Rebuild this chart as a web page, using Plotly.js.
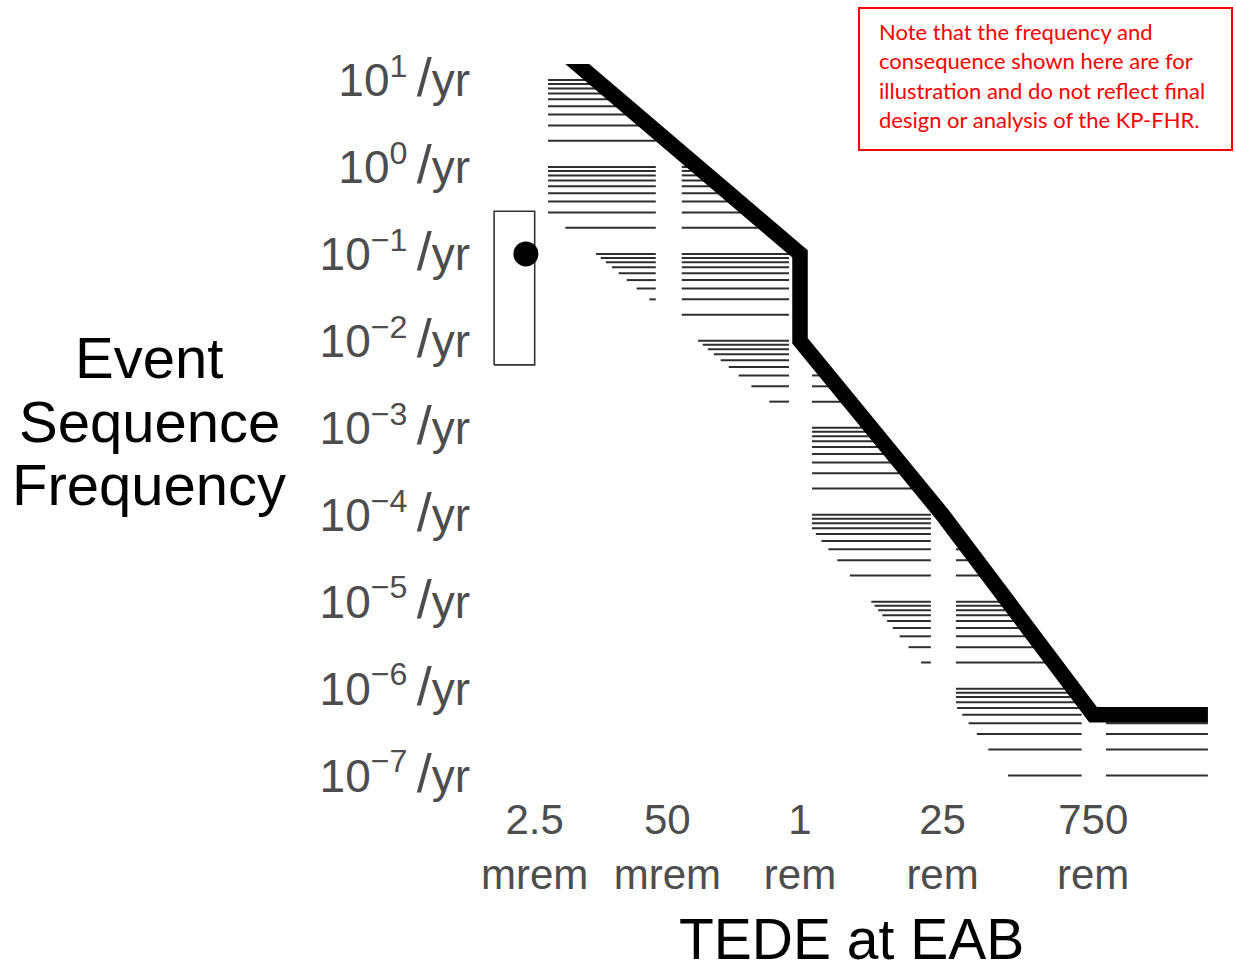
<!DOCTYPE html>
<html><head><meta charset="utf-8">
<script src="https://cdn.plot.ly/plotly-3.0.1.min.js"></script>
<style>html,body{margin:0;padding:0;background:#fff}#chart{width:1236px;height:964px}</style>
</head><body><div id="chart"></div>
<script>
// ---- data ----
// frequency-consequence target curve (dose in rem, frequency per year)
const fcDose = [0.004, 1, 1, 25, 750, 10000];
const fcFreq = [25, 0.1, 0.01, 1e-4, 5e-7, 5e-7];
// hatched band lies between the curve and the curve lowered by this factor
const bandFactor = 100;
// dose columns of the hatched band (rem)
const colLo = [0.00338, 0.0692, 1.31, 33.8, 1000];
const colHi = [0.0385, 0.780, 19.2, 578, 10000];
// hatch lines sit on the log grid k*10^n
const hatchDecades = [-7, -6, -5, -4, -3, -2, -1, 0];
const hatchMantissa = [1, 2, 3, 4, 5, 6, 7, 8, 9];
const hatchTop = [10];
// example event sequence: uncertainty box and point estimate
const boxDose = [0.001, 0.0025];
const boxFreq = [0.0053, 0.31];
const pointDose = [0.00205];
const pointFreq = [0.1];
// axis ticks and titles
const xTickVals = [0.0025, 0.05, 1, 25, 750];
const xTickText = ['2.5<br>mrem', '50<br>mrem', '1<br>rem', '25<br>rem', '750<br>rem'];
const yTickExp = [1, 0, -1, -2, -3, -4, -5, -6, -7];
const xTitle = 'TEDE at EAB';
const yTitleLines = ['Event', 'Sequence', 'Frequency'];
const noteLines = ['Note that the frequency and', 'consequence shown here are for',
  'illustration and do not reflect final', 'design or analysis of the KP-FHR.'];

// ---- helpers ----
const lg = Math.log10;
const LX = fcDose.map(lg), LY = fcFreq.map(lg);
function fcX(ly) { // largest log-dose where curve >= ly
  if (ly <= LY[LY.length - 1]) return Infinity;
  if (ly > LY[0]) return -Infinity;
  for (let i = LX.length - 2; i >= 0; i--) {
    const xa = LX[i], xb = LX[i + 1], ya = LY[i], yb = LY[i + 1];
    if (ya > yb && ly <= ya && ly >= yb) {
      if (xa === xb) return xa;
      return xa + (ly - ya) * (xb - xa) / (yb - ya);
    }
  }
  return -Infinity;
}
function lowerX(ly) { // smallest log-dose where curve/bandFactor <= ly
  const Y = ly + lg(bandFactor);
  if (Y >= LY[0]) return -Infinity;
  if (Y < LY[LY.length - 1]) return Infinity;
  for (let i = 0; i < LX.length - 1; i++) {
    const xa = LX[i], xb = LX[i + 1], ya = LY[i], yb = LY[i + 1];
    if (ya > yb && Y <= ya && Y >= yb) {
      if (xa === xb) return xa;
      return xa + (Y - ya) * (xb - xa) / (yb - ya);
    }
    if (ya === yb && Y === ya) return xa;
  }
  return Infinity;
}
const hatchLevels = [];
hatchDecades.forEach(n => hatchMantissa.forEach(k => hatchLevels.push(k * Math.pow(10, n))));
hatchTop.forEach(v => hatchLevels.push(v));
const hx = [], hy = [];
hatchLevels.forEach(y => {
  const ly = lg(y);
  colLo.forEach((lo, c) => {
    const left = Math.max(lg(lo), lowerX(ly));
    const right = Math.min(lg(colHi[c]), fcX(ly));
    if (right > left) { hx.push(Math.pow(10, left), Math.pow(10, right), null); hy.push(y, y, null); }
  });
});

const FONT = 'Liberation Sans, Arial, Helvetica, sans-serif';
const W = 1236, H = 964, M = {l: 489, r: 23, t: 64, b: 171};
const PW = W - M.l - M.r, PH = H - M.t - M.b;
const px2x = p => (p - M.l) / PW;
const px2y = p => 1 - (p - M.t) / PH;

const traces = [
  {type: 'scatter', mode: 'lines', x: hx, y: hy, line: {color: '#2e2e2e', width: 2}, hoverinfo: 'skip', connectgaps: false},
  {type: 'scatter', mode: 'lines', x: fcDose, y: fcFreq, line: {color: '#000000', width: 15.5}, hoverinfo: 'skip'},
  {type: 'scatter', mode: 'lines',
   x: [boxDose[0], boxDose[1], boxDose[1], boxDose[0], boxDose[0]],
   y: [boxFreq[0], boxFreq[0], boxFreq[1], boxFreq[1], boxFreq[0]],
   line: {color: '#333333', width: 1.6}, hoverinfo: 'skip'},
  {type: 'scatter', mode: 'markers', x: pointDose, y: pointFreq, marker: {color: '#000000', size: 25}, hoverinfo: 'skip'}
];

const annotations = [];
const yTitleY = [360, 423, 486];
yTitleLines.forEach((t, i) => annotations.push({
  text: t, xref: 'paper', yref: 'paper', x: px2x(149), y: px2y(yTitleY[i] - 2),
  xanchor: 'center', yanchor: 'middle', showarrow: false,
  font: {family: FONT, size: 58, color: '#000000'}
}));
annotations.push({
  text: xTitle, xref: 'paper', yref: 'paper', x: 0.5, y: px2y(939),
  xanchor: 'center', yanchor: 'middle', showarrow: false,
  font: {family: FONT, size: 57, color: '#000000'}
});
const noteY = [33, 62, 92, 121];
noteLines.forEach((t, i) => annotations.push({
  text: t, xref: 'paper', yref: 'paper', x: px2x(877), y: px2y(noteY[i] - 1.5),
  xanchor: 'left', yanchor: 'middle', showarrow: false, align: 'left',
  font: {family: 'Lato, Open Sans, sans-serif', size: 22, color: '#ff0000'}
}));

const layout = {
  width: W, height: H, margin: M, paper_bgcolor: '#ffffff', plot_bgcolor: '#ffffff', showlegend: false,
  xaxis: {type: 'log', range: [-3.05, 4.05], showgrid: false, zeroline: false, showline: false, ticks: '',
    tickmode: 'array', tickvals: xTickVals, ticktext: xTickText, ticklabelstandoff: -2,
    tickfont: {family: FONT, size: 42, color: '#4d4d4d'}},
  yaxis: {type: 'log', range: [-7.2, 1.184], showgrid: false, zeroline: false, showline: false, ticks: '',
    tickmode: 'array', tickvals: yTickExp.map(e => Math.pow(10, e)),
    ticktext: yTickExp.map(e => '10<sup>' + (e < 0 ? '\u2212' + (-e) : e) + '</sup>\u2009<span style="font-size:54px">/</span>yr'),
    ticklabelstandoff: 18, tickfont: {family: FONT, size: 46, color: '#4d4d4d'}},
  shapes: [{type: 'rect', xref: 'paper', yref: 'paper', x0: px2x(859), x1: px2x(1232), y0: px2y(150), y1: px2y(8),
    line: {color: '#ff0000', width: 2}, fillcolor: 'rgba(0,0,0,0)'}],
  annotations: annotations
};
Plotly.newPlot('chart', traces, layout, {staticPlot: true, displayModeBar: false});
</script></body></html>
